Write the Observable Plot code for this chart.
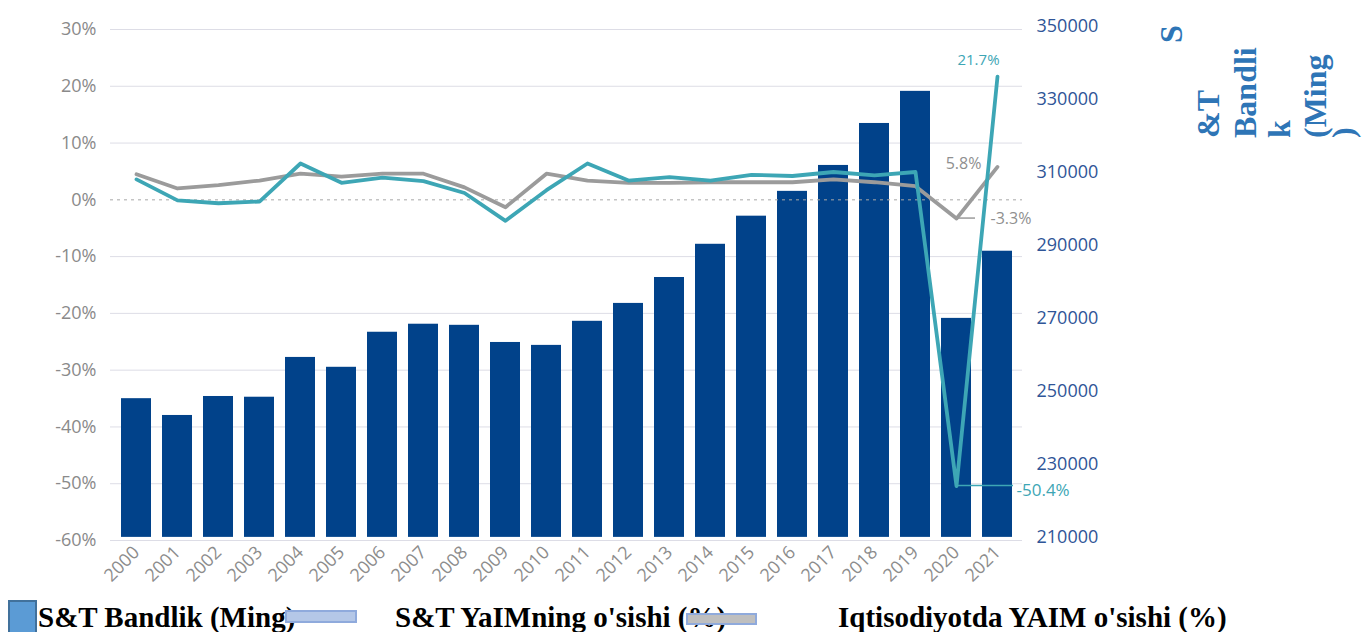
<!DOCTYPE html>
<html><head><meta charset="utf-8">
<script src="https://cdn.jsdelivr.net/npm/d3@7"></script>
<script src="https://cdn.jsdelivr.net/npm/@observablehq/plot@0.6"></script>
<style>
html,body{margin:0;padding:0;background:#fff;overflow:hidden;}
#chart{width:1362px;}
#chart svg{display:block;}
</style></head><body><div id="chart"></div>
<script>
const years = ["2000","2001","2002","2003","2004","2005","2006","2007","2008","2009","2010","2011","2012","2013","2014","2015","2016","2017","2018","2019","2020","2021"];
const employment = [248000,243400,248600,248400,259300,256600,266200,268400,268100,263400,262600,269200,274100,281200,290300,298000,304800,311900,323400,332200,270000,288400];
const stGdpGrowth = [3.6,-0.1,-0.6,-0.3,6.4,3.0,3.9,3.3,1.2,-3.7,1.7,6.4,3.4,4.0,3.4,4.4,4.2,4.9,4.3,4.9,-50.4,21.7];
const gdpGrowth = [4.5,2.0,2.6,3.4,4.6,4.1,4.6,4.6,2.2,-1.3,4.6,3.4,3.0,3.0,3.1,3.1,3.1,3.6,3.1,2.4,-3.3,5.8];
const leftTicks = [30,20,10,0,-10,-20,-30,-40,-50,-60];
const rightTicks = [350000,330000,310000,290000,270000,250000,230000,210000];
const seriesNames = ["S&T Bandlik (Ming)","S&T YaIMning o'sishi (%)","Iqtisodiyotda YAIM o'sishi (%)"];
const rightTitleLines = ["S","&T","Bandli","k","(Ming",")"];

const colors = {bar:"#01428a", teal:"#3da6b5", gray:"#9b9b9b"};

// secondary (right) axis mapped into left-axis units
const base = 210000, offset = -59.45, k = 90/140000;
const toLeft = v => offset + (v - base) * k;
const fromLeft = d => Math.round(base + (d - offset) / k);

const rows = years.map((year, i) => ({year, emp: employment[i], empL: toLeft(employment[i]), st: stGdpGrowth[i], gdp: gdpGrowth[i]}));
const last = rows.filter(d => d.year === "2021");
const y2020 = rows.filter(d => d.year === "2020");

const plot = Plot.plot({
  width: 1362, height: 596,
  marginTop: 29, marginBottom: 56, marginLeft: 110, marginRight: 340,
  style: {fontFamily: "Open Sans", fontSize: "16px", background: "#fff", overflow: "visible"},
  x: {domain: years, paddingInner: 0.28, paddingOuter: 0.1, axis: null},
  y: {domain: [-60, 30], axis: null},
  marks: [
    Plot.gridY(leftTicks.filter(t => t !== 0), {stroke: "#dddde6", strokeOpacity: 1, strokeWidth: 1}),
    Plot.barY(rows, {x: "year", y1: () => toLeft(base), y2: "empL", fill: colors.bar}),
    Plot.ruleY([0], {stroke: "#a8a8a8", strokeWidth: 1, strokeDasharray: "3,4"}),
    Plot.line(rows, {x: "year", y: "gdp", stroke: colors.gray, strokeWidth: 3.8}),
    Plot.line(rows, {x: "year", y: "st", stroke: colors.teal, strokeWidth: 3.8}),
    Plot.axisY(leftTicks, {anchor: "left", tickSize: 0, tickPadding: 14, tickFormat: d => `${d}%`, color: "#8a8a8a", fontSize: 18, label: null}),
    Plot.axisY(rightTicks.map(toLeft), {anchor: "right", tickSize: 0, tickPadding: 14, tickFormat: d => String(fromLeft(d)), color: "#2f5597", fontSize: 18, label: null}),
    Plot.axisX({tickRotate: -45, tickSize: 0, tickPadding: 9, color: "#8c8c8c", fontSize: 18, label: null}),
    Plot.text(last, {x: "year", y: "st", text: d => `${d.st}%`, fill: colors.teal, fontSize: 15, dx: -19, dy: -16}),
    Plot.text(last, {x: "year", y: "gdp", text: d => `${d.gdp}%`, fill: "#8f8f8f", fontSize: 16, dx: -34, dy: -3}),
    Plot.text(y2020, {x: "year", y: "gdp", text: d => `${d.gdp}%`, fill: "#8f8f8f", fontSize: 16, textAnchor: "start", dx: 34, dy: 0}),
    Plot.text(y2020, {x: "year", y: "st", text: d => `${d.st}%`, fill: colors.teal, fontSize: 17, textAnchor: "start", dx: 60, dy: 5})
  ]
});

// leader lines for 2020 labels, positioned with the plot's own scales
const sx = plot.scale("x"), sy = plot.scale("y");
const svg = d3.select(plot);
const cx = sx.apply("2020") + sx.bandwidth / 2;
const lead = svg.append("g");
lead.append("line").attr("x1", cx).attr("x2", cx + 19).attr("y1", sy.apply(y2020[0].gdp)).attr("y2", sy.apply(y2020[0].gdp)).attr("stroke", colors.gray).attr("stroke-width", 1.5);
lead.append("line").attr("x1", cx).attr("x2", cx + 57).attr("y1", sy.apply(y2020[0].st)).attr("y2", sy.apply(y2020[0].st)).attr("stroke", colors.teal).attr("stroke-width", 1.5);

// right-axis title (wrapped, rotated)
const titleX = [1182, 1219, 1256, 1290, 1326, 1354];
const titleG = svg.append("g").attr("font-family", "Liberation Serif, Times New Roman, serif").attr("font-weight", "bold").attr("font-size", 32).attr("fill", "#2e75b6");
rightTitleLines.forEach((t, i) => {
  const by = i === 0 ? 43 : 138;
  titleG.append("text").attr("transform", `translate(${titleX[i]},${by}) rotate(-90)`).attr("text-anchor", "start").text(t);
});

document.getElementById("chart").appendChild(plot);

// legend below the chart
const leg = d3.select("#chart").append("svg").attr("width", 1362).attr("height", 36)
  .style("display", "block").style("font-family", "Liberation Serif, Times New Roman, serif").style("font-weight", "bold");
leg.append("rect").attr("x", 9).attr("y", 5).attr("width", 27).attr("height", 34).attr("fill", "#5b9bd5").attr("stroke", "#41719c").attr("stroke-width", 2);
leg.append("text").attr("x", 38).attr("y", 31).attr("font-size", 29).attr("fill", "#000").text(seriesNames[0]);
leg.append("text").attr("x", 395).attr("y", 31).attr("font-size", 29).attr("fill", "#000").text(seriesNames[1]);
leg.append("text").attr("x", 838).attr("y", 31).attr("font-size", 29).attr("fill", "#000").text(seriesNames[2]);
leg.append("rect").attr("x", 286).attr("y", 15).attr("width", 70).attr("height", 11).attr("fill", "#b4c7e7").attr("stroke", "#8faadc").attr("stroke-width", 2);
leg.append("rect").attr("x", 687).attr("y", 18).attr("width", 69).attr("height", 10).attr("fill", "#bfbfbf").attr("stroke", "#8faadc").attr("stroke-width", 2);
</script></body></html>
